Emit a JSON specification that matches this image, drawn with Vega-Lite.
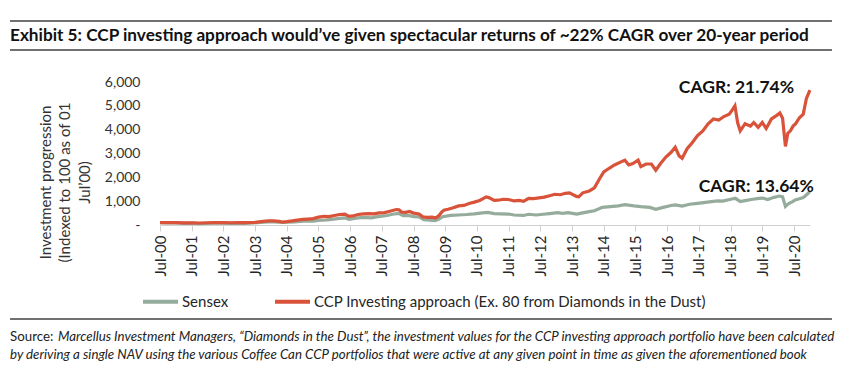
{
  "$schema": "https://vega.github.io/schema/vega-lite/v6.json",
  "width": 650,
  "height": 143,
  "autosize": {"type": "none"},
  "padding": {"left": 160, "top": 82, "right": 45, "bottom": 150},
  "background": "white",
  "config": {"view": {"stroke": null}, "font": "Lato"},
  "resolve": {"axis": {"x": "independent", "y": "independent"}},
  "datasets": {
    "sensex": [
      {"date": "2000-07-01", "value": 100}, {"date": "2000-10-01", "value": 88}, {"date": "2001-01-01", "value": 92},
      {"date": "2001-04-01", "value": 72}, {"date": "2001-07-01", "value": 75}, {"date": "2001-09-20", "value": 60},
      {"date": "2001-12-01", "value": 72}, {"date": "2002-03-01", "value": 78}, {"date": "2002-06-01", "value": 74},
      {"date": "2002-09-01", "value": 68}, {"date": "2002-12-01", "value": 75}, {"date": "2003-03-01", "value": 70},
      {"date": "2003-06-01", "value": 85}, {"date": "2003-09-01", "value": 105}, {"date": "2003-12-01", "value": 130},
      {"date": "2004-02-01", "value": 135}, {"date": "2004-05-15", "value": 105}, {"date": "2004-07-01", "value": 115},
      {"date": "2004-10-01", "value": 135}, {"date": "2004-12-01", "value": 155}, {"date": "2005-03-01", "value": 170},
      {"date": "2005-05-01", "value": 165}, {"date": "2005-07-01", "value": 195}, {"date": "2005-10-01", "value": 210},
      {"date": "2005-12-01", "value": 235}, {"date": "2006-03-01", "value": 275}, {"date": "2006-05-01", "value": 300},
      {"date": "2006-06-15", "value": 235}, {"date": "2006-08-01", "value": 270}, {"date": "2006-10-01", "value": 300},
      {"date": "2006-12-01", "value": 320}, {"date": "2007-03-01", "value": 300}, {"date": "2007-05-01", "value": 340},
      {"date": "2007-07-01", "value": 370}, {"date": "2007-09-01", "value": 400}, {"date": "2007-11-01", "value": 450},
      {"date": "2008-01-10", "value": 490}, {"date": "2008-03-01", "value": 390}, {"date": "2008-05-01", "value": 400},
      {"date": "2008-07-01", "value": 350}, {"date": "2008-09-01", "value": 340}, {"date": "2008-10-25", "value": 220},
      {"date": "2008-12-01", "value": 210}, {"date": "2009-03-05", "value": 185}, {"date": "2009-04-15", "value": 240},
      {"date": "2009-06-01", "value": 350}, {"date": "2009-09-01", "value": 400}, {"date": "2009-12-01", "value": 420},
      {"date": "2010-03-01", "value": 440}, {"date": "2010-06-01", "value": 470}, {"date": "2010-09-01", "value": 510},
      {"date": "2010-11-01", "value": 530}, {"date": "2011-01-15", "value": 480}, {"date": "2011-04-01", "value": 470},
      {"date": "2011-07-01", "value": 460}, {"date": "2011-09-01", "value": 420}, {"date": "2011-12-20", "value": 400},
      {"date": "2012-02-15", "value": 450}, {"date": "2012-05-15", "value": 420}, {"date": "2012-08-01", "value": 450},
      {"date": "2012-10-15", "value": 480}, {"date": "2013-01-15", "value": 520}, {"date": "2013-03-15", "value": 490},
      {"date": "2013-05-15", "value": 520}, {"date": "2013-08-25", "value": 460}, {"date": "2013-10-15", "value": 500},
      {"date": "2014-01-15", "value": 560}, {"date": "2014-03-15", "value": 600}, {"date": "2014-06-15", "value": 740},
      {"date": "2014-09-15", "value": 770}, {"date": "2014-12-15", "value": 800}, {"date": "2015-03-01", "value": 850},
      {"date": "2015-06-15", "value": 800}, {"date": "2015-09-01", "value": 770}, {"date": "2015-12-15", "value": 740},
      {"date": "2016-02-20", "value": 660}, {"date": "2016-05-15", "value": 740}, {"date": "2016-08-15", "value": 820},
      {"date": "2016-10-01", "value": 840}, {"date": "2016-12-20", "value": 790}, {"date": "2017-03-15", "value": 870},
      {"date": "2017-06-15", "value": 910}, {"date": "2017-09-15", "value": 950}, {"date": "2017-12-15", "value": 990},
      {"date": "2018-02-01", "value": 1010}, {"date": "2018-04-01", "value": 1000}, {"date": "2018-07-15", "value": 1090},
      {"date": "2018-08-25", "value": 1120}, {"date": "2018-10-20", "value": 980}, {"date": "2018-12-15", "value": 1020},
      {"date": "2019-03-15", "value": 1080}, {"date": "2019-05-25", "value": 1120}, {"date": "2019-07-05", "value": 1130},
      {"date": "2019-09-01", "value": 1070}, {"date": "2019-11-15", "value": 1160}, {"date": "2020-01-15", "value": 1215},
      {"date": "2020-02-20", "value": 1180}, {"date": "2020-03-24", "value": 780}, {"date": "2020-04-30", "value": 900},
      {"date": "2020-06-15", "value": 980}, {"date": "2020-07-15", "value": 1050}, {"date": "2020-09-01", "value": 1100},
      {"date": "2020-10-15", "value": 1150}, {"date": "2020-11-25", "value": 1280}, {"date": "2020-12-31", "value": 1400}
    ],
    "ccp": [
      {"date": "2000-07-01", "value": 100}, {"date": "2000-10-01", "value": 96}, {"date": "2001-01-01", "value": 102},
      {"date": "2001-04-01", "value": 88}, {"date": "2001-07-01", "value": 92}, {"date": "2001-10-01", "value": 84},
      {"date": "2002-01-01", "value": 95}, {"date": "2002-04-01", "value": 104}, {"date": "2002-07-01", "value": 98},
      {"date": "2002-10-01", "value": 94}, {"date": "2003-01-01", "value": 100}, {"date": "2003-04-01", "value": 96},
      {"date": "2003-07-01", "value": 112}, {"date": "2003-10-01", "value": 150}, {"date": "2003-12-01", "value": 175},
      {"date": "2004-02-01", "value": 170}, {"date": "2004-04-01", "value": 150}, {"date": "2004-05-15", "value": 125},
      {"date": "2004-07-01", "value": 140}, {"date": "2004-09-01", "value": 170}, {"date": "2004-11-01", "value": 205},
      {"date": "2005-01-01", "value": 235}, {"date": "2005-03-01", "value": 250}, {"date": "2005-05-01", "value": 270},
      {"date": "2005-07-01", "value": 330}, {"date": "2005-09-01", "value": 360}, {"date": "2005-11-01", "value": 350},
      {"date": "2006-01-01", "value": 400}, {"date": "2006-03-01", "value": 440}, {"date": "2006-05-01", "value": 460},
      {"date": "2006-06-15", "value": 360}, {"date": "2006-08-01", "value": 380}, {"date": "2006-10-01", "value": 440},
      {"date": "2006-12-01", "value": 470}, {"date": "2007-02-01", "value": 480}, {"date": "2007-04-01", "value": 470},
      {"date": "2007-06-01", "value": 510}, {"date": "2007-08-01", "value": 520}, {"date": "2007-10-01", "value": 580},
      {"date": "2007-12-15", "value": 650}, {"date": "2008-01-15", "value": 640}, {"date": "2008-02-15", "value": 540},
      {"date": "2008-04-01", "value": 530}, {"date": "2008-05-15", "value": 570}, {"date": "2008-07-01", "value": 500},
      {"date": "2008-09-01", "value": 460}, {"date": "2008-10-15", "value": 340}, {"date": "2008-12-01", "value": 320},
      {"date": "2009-02-01", "value": 330}, {"date": "2009-03-10", "value": 290}, {"date": "2009-04-15", "value": 380},
      {"date": "2009-05-20", "value": 540}, {"date": "2009-06-15", "value": 620}, {"date": "2009-08-01", "value": 660},
      {"date": "2009-10-01", "value": 720}, {"date": "2009-12-01", "value": 800}, {"date": "2010-02-01", "value": 820},
      {"date": "2010-04-01", "value": 900}, {"date": "2010-06-01", "value": 960}, {"date": "2010-08-01", "value": 1030},
      {"date": "2010-10-15", "value": 1180}, {"date": "2010-11-15", "value": 1150}, {"date": "2011-01-15", "value": 1030},
      {"date": "2011-03-01", "value": 1040}, {"date": "2011-05-01", "value": 1080}, {"date": "2011-07-01", "value": 1070},
      {"date": "2011-09-01", "value": 1010}, {"date": "2011-11-01", "value": 1030}, {"date": "2011-12-20", "value": 990},
      {"date": "2012-02-15", "value": 1120}, {"date": "2012-04-15", "value": 1110}, {"date": "2012-06-15", "value": 1140},
      {"date": "2012-08-15", "value": 1170}, {"date": "2012-10-15", "value": 1230}, {"date": "2012-12-15", "value": 1290},
      {"date": "2013-02-15", "value": 1270}, {"date": "2013-04-15", "value": 1330}, {"date": "2013-06-01", "value": 1350},
      {"date": "2013-08-20", "value": 1200}, {"date": "2013-09-15", "value": 1180}, {"date": "2013-11-01", "value": 1350},
      {"date": "2014-01-15", "value": 1430}, {"date": "2014-03-15", "value": 1560}, {"date": "2014-05-15", "value": 1950},
      {"date": "2014-07-01", "value": 2230}, {"date": "2014-09-01", "value": 2380}, {"date": "2014-11-01", "value": 2520},
      {"date": "2015-01-15", "value": 2650}, {"date": "2015-03-01", "value": 2720}, {"date": "2015-04-15", "value": 2520},
      {"date": "2015-06-01", "value": 2580}, {"date": "2015-08-01", "value": 2720}, {"date": "2015-09-01", "value": 2450},
      {"date": "2015-11-01", "value": 2560}, {"date": "2016-01-01", "value": 2560}, {"date": "2016-02-20", "value": 2300},
      {"date": "2016-04-15", "value": 2580}, {"date": "2016-06-15", "value": 2850}, {"date": "2016-08-15", "value": 3050},
      {"date": "2016-10-01", "value": 3260}, {"date": "2016-11-15", "value": 2900}, {"date": "2016-12-20", "value": 2800},
      {"date": "2017-02-15", "value": 3200}, {"date": "2017-04-15", "value": 3450}, {"date": "2017-06-15", "value": 3750},
      {"date": "2017-08-15", "value": 3950}, {"date": "2017-10-15", "value": 4250}, {"date": "2017-12-15", "value": 4450},
      {"date": "2018-02-15", "value": 4400}, {"date": "2018-04-15", "value": 4550}, {"date": "2018-06-15", "value": 4650},
      {"date": "2018-07-15", "value": 4800}, {"date": "2018-08-20", "value": 5000}, {"date": "2018-09-20", "value": 4300},
      {"date": "2018-10-20", "value": 3950}, {"date": "2018-12-15", "value": 4250}, {"date": "2019-02-15", "value": 4150},
      {"date": "2019-03-25", "value": 4300}, {"date": "2019-05-15", "value": 4100}, {"date": "2019-07-01", "value": 4300},
      {"date": "2019-08-15", "value": 4050}, {"date": "2019-10-15", "value": 4450}, {"date": "2019-12-15", "value": 4600},
      {"date": "2020-01-20", "value": 4700}, {"date": "2020-02-20", "value": 4480}, {"date": "2020-03-24", "value": 3300},
      {"date": "2020-04-20", "value": 3850}, {"date": "2020-05-20", "value": 3950}, {"date": "2020-06-20", "value": 4150},
      {"date": "2020-07-20", "value": 4250}, {"date": "2020-09-01", "value": 4500}, {"date": "2020-10-15", "value": 4650},
      {"date": "2020-11-20", "value": 5300}, {"date": "2020-12-31", "value": 5660}
    ],
    "cagr": [
      {"date": "2020-07-01", "value": 5749, "label": "CAGR: 21.74%"},
      {"date": "2021-02-14", "value": 1607, "label": "CAGR: 13.64%"}
    ]
  },
  "layer": [
    {
      "data": {"name": "sensex"},
      "mark": {"type": "line", "strokeWidth": 3.2, "clip": false},
      "encoding": {
        "x": {
          "field": "date", "type": "temporal",
          "scale": {"domain": [{"year": 2000, "month": 7, "date": 1}, {"year": 2021, "month": 1, "date": 1}]},
          "axis": {
            "title": null, "grid": false,
            "values": [
              {"year": 2000, "month": 7, "date": 1}, {"year": 2001, "month": 7, "date": 1}, {"year": 2002, "month": 7, "date": 1},
              {"year": 2003, "month": 7, "date": 1}, {"year": 2004, "month": 7, "date": 1}, {"year": 2005, "month": 7, "date": 1},
              {"year": 2006, "month": 7, "date": 1}, {"year": 2007, "month": 7, "date": 1}, {"year": 2008, "month": 7, "date": 1},
              {"year": 2009, "month": 7, "date": 1}, {"year": 2010, "month": 7, "date": 1}, {"year": 2011, "month": 7, "date": 1},
              {"year": 2012, "month": 7, "date": 1}, {"year": 2013, "month": 7, "date": 1}, {"year": 2014, "month": 7, "date": 1},
              {"year": 2015, "month": 7, "date": 1}, {"year": 2016, "month": 7, "date": 1}, {"year": 2017, "month": 7, "date": 1},
              {"year": 2018, "month": 7, "date": 1}, {"year": 2019, "month": 7, "date": 1}, {"year": 2020, "month": 7, "date": 1}
            ],
            "format": "%b-%y", "labelAngle": 270, "labelFont": "Lato", "labelFontSize": 15, "labelColor": "#262626",
            "labelPadding": 4, "tickSize": 6, "tickColor": "#d0d0d0", "domainColor": "#d0d0d0", "labelOverlap": false, "labelFlush": false
          }
        },
        "y": {
          "field": "value", "type": "quantitative",
          "scale": {"domain": [0, 6000], "nice": false, "zero": true},
          "axis": {
            "title": ["Investment progression", "(Indexed to 100 as of 01", "Jul’00)"],
            "titleFont": "Lato", "titleFontSize": 15, "titleFontWeight": "normal", "titleColor": "#333333",
            "titleLineHeight": 19.5, "titleY": 100, "titlePadding": 12,
            "values": [0, 1000, 2000, 3000, 4000, 5000, 6000],
            "labelExpr": "datum.value == 0 ? '-' : format(datum.value, ',')",
            "labelFont": "Lato", "labelFontSize": 14, "labelColor": "#333333", "labelPadding": 20,
            "grid": false, "ticks": false, "domain": false
          }
        },
        "color": {
          "datum": "Sensex", "type": "nominal",
          "scale": {"domain": ["Sensex", "CCP Investing approach (Ex. 80 from Diamonds in the Dust)"], "range": ["#95ab9c", "#d9523a"]},
          "legend": {
            "orient": "none", "legendX": -19, "legendY": 200, "direction": "horizontal", "title": null,
            "symbolType": "stroke", "symbolStrokeWidth": 4, "symbolSize": 1225, "labelFont": "Lato", "labelFontSize": 15,
            "labelColor": "#262626", "columnPadding": 38, "labelOffset": 2, "labelLimit": 0
          }
        }
      }
    },
    {
      "data": {"name": "ccp"},
      "mark": {"type": "line", "strokeWidth": 3.2, "clip": false},
      "encoding": {
        "x": {"field": "date", "type": "temporal", "axis": null},
        "y": {"field": "value", "type": "quantitative", "axis": null},
        "color": {
          "datum": "CCP Investing approach (Ex. 80 from Diamonds in the Dust)", "type": "nominal"
        }
      }
    },
    {
      "data": {"name": "cagr"},
      "mark": {"type": "text", "align": "right", "baseline": "middle", "font": "Lato", "fontWeight": "bold", "fontSize": 17.5, "color": "#111111"},
      "encoding": {
        "x": {"field": "date", "type": "temporal", "axis": null},
        "y": {"field": "value", "type": "quantitative", "axis": null},
        "text": {"field": "label"}
      }
    },
    {
      "data": {"values": [{"t": "Exhibit 5: CCP investing approach would’ve given spectacular returns of ~22% CAGR over 20-year period"}]},
      "mark": {"type": "text", "align": "left", "baseline": "middle", "font": "Lato", "fontWeight": "bold", "fontSize": 17.2, "color": "#111111"},
      "encoding": {
        "x": {"datum": {"year": 1995, "month": 10, "date": 8}, "type": "temporal", "axis": null},
        "y": {"datum": 7951, "type": "quantitative", "axis": null},
        "text": {"field": "t"}
      }
    },
    {
      "data": {"values": [{"t": "Source:"}]},
      "mark": {"type": "text", "align": "left", "baseline": "middle", "font": "Lato", "fontSize": 13.3, "color": "#222222"},
      "encoding": {
        "x": {"datum": {"year": 1995, "month": 10, "date": 8}, "type": "temporal", "axis": null},
        "y": {"datum": -4699, "type": "quantitative", "axis": null},
        "text": {"field": "t"}
      }
    },
    {
      "data": {"values": [{"t": "Marcellus Investment Managers, “Diamonds in the Dust”, the investment values for the CCP investing approach portfolio have been calculated"}]},
      "mark": {"type": "text", "align": "left", "baseline": "middle", "font": "Lato", "fontStyle": "italic", "fontSize": 13.3, "color": "#222222", "dx": 48},
      "encoding": {
        "x": {"datum": {"year": 1995, "month": 10, "date": 8}, "type": "temporal", "axis": null},
        "y": {"datum": -4699, "type": "quantitative", "axis": null},
        "text": {"field": "t"}
      }
    },
    {
      "data": {"values": [{"t": "by deriving a single NAV using the various Coffee Can CCP portfolios that were active at any given point in time as given the aforementioned book"}]},
      "mark": {"type": "text", "align": "left", "baseline": "middle", "font": "Lato", "fontStyle": "italic", "fontSize": 13.3, "color": "#222222"},
      "encoding": {
        "x": {"datum": {"year": 1995, "month": 10, "date": 8}, "type": "temporal", "axis": null},
        "y": {"datum": -5455, "type": "quantitative", "axis": null},
        "text": {"field": "t"}
      }
    },
    {
      "data": {"values": [{}]},
      "mark": {"type": "rule", "color": "#404040", "strokeWidth": 1.5, "clip": false},
      "encoding": {
        "x": {"datum": {"year": 1995, "month": 10, "date": 8}, "type": "temporal", "axis": null},
        "x2": {"datum": {"year": 2021, "month": 9, "date": 11}},
        "y": {"datum": 8560, "type": "quantitative", "axis": null}
      }
    },
    {
      "data": {"values": [{}]},
      "mark": {"type": "rule", "color": "#404040", "strokeWidth": 1.5, "clip": false},
      "encoding": {
        "x": {"datum": {"year": 1995, "month": 10, "date": 8}, "type": "temporal", "axis": null},
        "x2": {"datum": {"year": 2021, "month": 9, "date": 11}},
        "y": {"datum": 7343, "type": "quantitative", "axis": null}
      }
    },
    {
      "data": {"values": [{}]},
      "mark": {"type": "rule", "color": "#404040", "strokeWidth": 1.5, "clip": false},
      "encoding": {
        "x": {"datum": {"year": 1995, "month": 10, "date": 8}, "type": "temporal", "axis": null},
        "x2": {"datum": {"year": 2021, "month": 9, "date": 11}},
        "y": {"datum": -3944, "type": "quantitative", "axis": null}
      }
    }
  ]
}
